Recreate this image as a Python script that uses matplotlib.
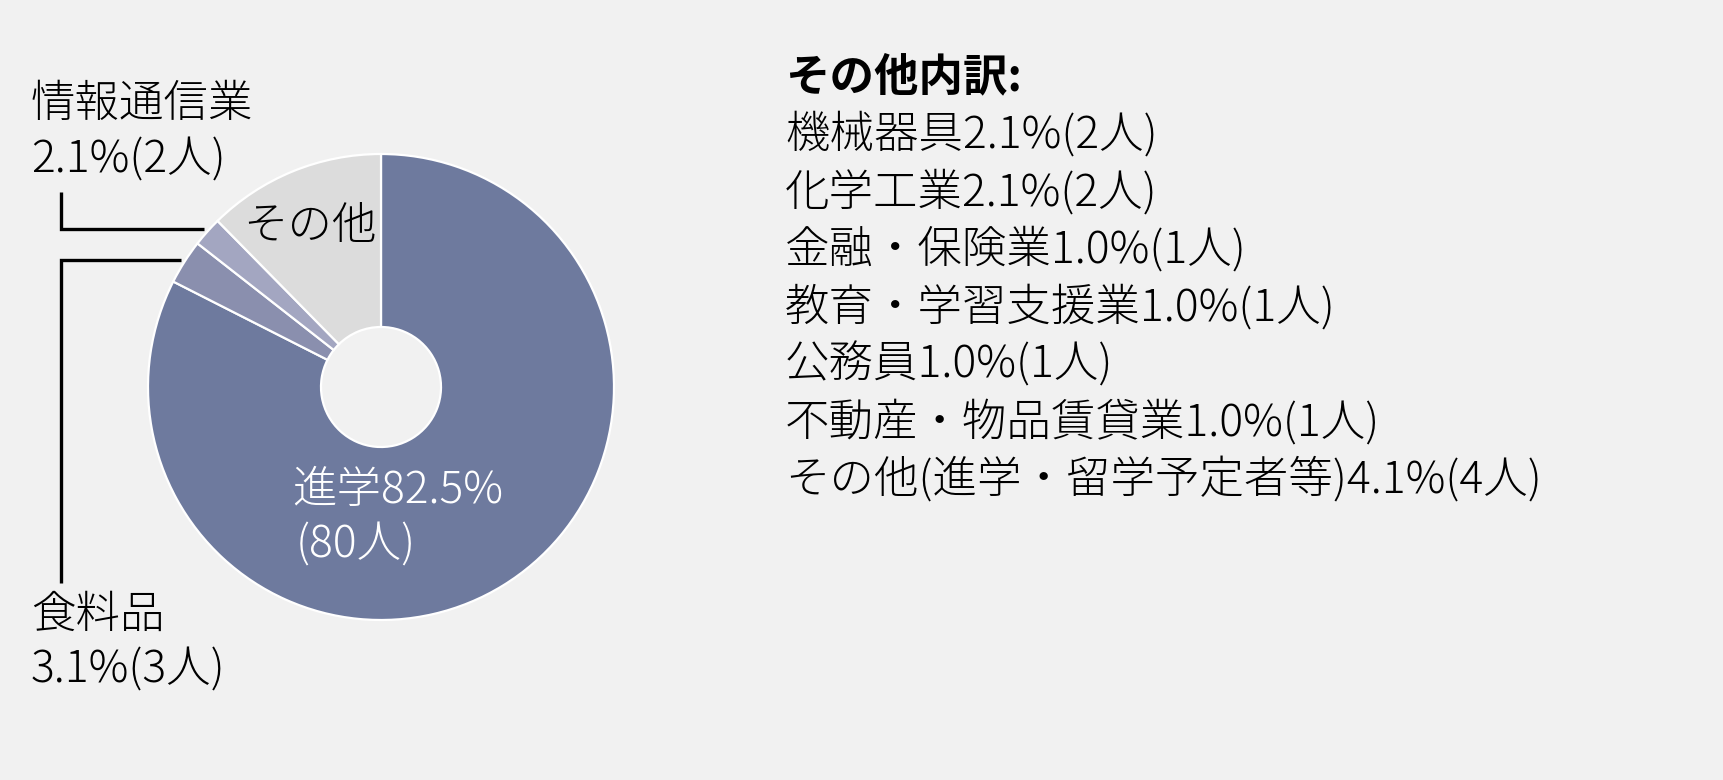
import numpy as np
import matplotlib.pyplot as plt

plt.rcParams['font.family'] = ['Noto Sans CJK JP', 'DejaVu Sans']

# main breakdown (clockwise from 12 o'clock)
labels = ['進学', '食料品', '情報通信業', 'その他']
counts = [80, 3, 2, 12]
colors = ['#6e7a9e', '#8a8fae', '#a3a6c1', '#dcdcdc']

# その他 breakdown
other_labels = ['機械器具', '化学工業', '金融・保険業', '教育・学習支援業',
                '公務員', '不動産・物品賃貸業', 'その他(進学・留学予定者等)']
other_counts = [2, 2, 1, 1, 1, 1, 4]

total = sum(counts)


def pct(n):
    return '%.1f%%' % (100.0 * n / total)


W, H = 1724, 780
fig = plt.figure(figsize=(W / 100, H / 100), dpi=100, facecolor='#f1f1f1')
ax = fig.add_axes([0, 0, 1, 1])
ax.set_facecolor('#f1f1f1')

cx, cy, R, r_hole = 381, 387, 233, 60

# y axis is flipped (pixel coords), so angles run the other way
ax.pie(counts, colors=colors, startangle=-90, counterclock=True,
       center=(cx, cy), radius=R,
       wedgeprops=dict(width=R - r_hole, edgecolor='white', linewidth=1.6))
ax.set_xlim(0, W)
ax.set_ylim(H, 0)
ax.set_aspect('equal')
ax.axis('off')

# mid angles of the wedges (screen orientation, degrees)
cum = np.cumsum([0] + counts)
mid = 90 - 360.0 * (cum[:-1] + cum[1:]) / 2 / total


def edge_point(i, rr):
    a = np.deg2rad(mid[i])
    return cx + rr * np.cos(a), cy - rr * np.sin(a)


fs = 32
fw = 'light'
lead_x = 61

# 情報通信業 leader
ex, ey = edge_point(2, R + 4)
ax.plot([ex, lead_x, lead_x], [ey, ey, 192], color='black', lw=2.4,
        solid_capstyle='butt', solid_joinstyle='miter')
ax.text(31, 105, labels[2], fontsize=fs, fontweight=fw, va='center', ha='left')
ax.text(31, 160, '%s(%d人)' % (pct(counts[2]), counts[2]),
        fontsize=fs, fontweight=fw, va='center', ha='left')

# 食料品 leader
ex, ey = edge_point(1, R + 4)
ax.plot([ex, lead_x, lead_x], [ey, ey, 583], color='black', lw=2.4,
        solid_capstyle='butt', solid_joinstyle='miter')
ax.text(31, 615, labels[1], fontsize=fs, fontweight=fw, va='center', ha='left')
ax.text(31, 670, '%s(%d人)' % (pct(counts[1]), counts[1]),
        fontsize=fs, fontweight=fw, va='center', ha='left')

# labels inside the ring
ax.text(243, 227, labels[3], fontsize=fs, fontweight=fw, va='center', ha='left')
ax.text(292, 490, labels[0] + pct(counts[0]), fontsize=fs, fontweight=fw,
        color='white', va='center', ha='left')
ax.text(296, 545, '(%d人)' % counts[0], fontsize=fs, fontweight=fw,
        color='white', va='center', ha='left')

# breakdown list on the right
ax.text(785, 77, 'その他内訳:', fontsize=fs, fontweight='bold',
        va='center', ha='left')
for i, (name, n) in enumerate(zip(other_labels, other_counts)):
    ax.text(785, 135 + 57.5 * i, '%s%s(%d人)' % (name, pct(n), n),
            fontsize=fs, fontweight=fw, va='center', ha='left')

fig.savefig('out.png', dpi=100, facecolor=fig.get_facecolor())
